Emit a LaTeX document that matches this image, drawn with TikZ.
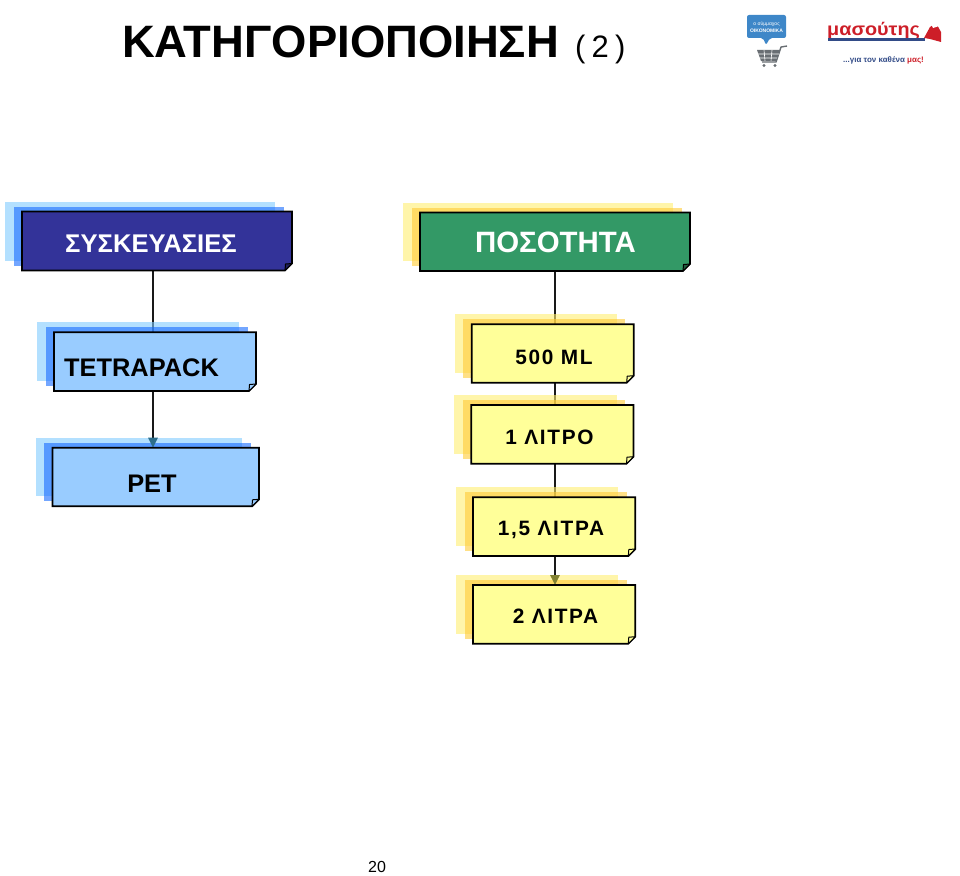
\documentclass[tikz,border=0pt]{standalone}
\usepackage{fontspec}
\setmainfont{Liberation Sans}
\usetikzlibrary{calc,arrows.meta}
\definecolor{navy}{RGB}{51,51,153}
\definecolor{grn}{RGB}{51,153,102}
\definecolor{sky}{RGB}{153,204,255}
\definecolor{lem}{RGB}{255,255,153}
\definecolor{bluebackA}{RGB}{128,203,255}
\definecolor{bluebackB}{RGB}{22,106,255}
\definecolor{yelbackA}{RGB}{255,238,113}
\definecolor{yelbackB}{RGB}{255,203,53}
\definecolor{logoblue}{RGB}{62,135,200}
\definecolor{logored}{RGB}{205,30,40}
\definecolor{logogray}{RGB}{105,110,115}
\definecolor{logonavy}{RGB}{50,75,135}
\definecolor{tealtip}{RGB}{45,110,140}
\definecolor{olivetip}{RGB}{130,130,50}
\pgfdeclarelayer{conn}
\pgfdeclarelayer{shadA}
\pgfdeclarelayer{shadB}
\pgfdeclarelayer{tips}
\pgfsetlayers{conn,shadA,shadB,tips,main}
\tikzset{
  box/.style={rectangle,inner sep=0pt,outer sep=0pt},
  backA/.style={box,fill=#1,opacity=.6},
  backB/.style={box,fill=#1,opacity=.6},
  edge/.style={draw=black,line width=1.7pt,line join=miter},
  foldmark/.style={draw=black,line width=1pt,line join=round},
  wire/.style={draw=black!90,line width=1.5pt},
  arrowwire/.style={wire,-{Triangle[length=10pt,width=9.5pt,color=#1]}},
  whitelabel/.style={text=white,font=\bfseries\fontsize{25.6}{30}\selectfont,inner sep=0pt},
  blacklabel/.style={text=black,font=\bfseries\fontsize{25.4}{30}\selectfont,inner sep=0pt},
  tracklabel/.style={text=black,font=\bfseries\fontsize{20.8}{24}\selectfont\addfontfeature{LetterSpace=8},inner sep=0pt},
}
% name, x1, y1, x2, y2, fill, fold fill, shadow A, shadow B
\newcommand\panel[9]{%
  \pgfmathsetmacro\pcx{(#2+#4)/2}%
  \pgfmathsetmacro\pcy{(#3+#5)/2}%
  \pgfmathsetmacro\pw{#4-#2}%
  \pgfmathsetmacro\ph{#5-#3}%
  \begin{pgfonlayer}{shadA}
    \node[backA=#8,minimum width=\pw pt,minimum height=\ph pt] (#1-a) at (\pcx-17,\pcy-10) {};
  \end{pgfonlayer}
  \begin{pgfonlayer}{shadB}
    \node[backB=#9,minimum width=\pw pt,minimum height=\ph pt] (#1-b) at (\pcx-8.5,\pcy-5) {};
  \end{pgfonlayer}
  \node[box,minimum width=\pw pt,minimum height=\ph pt] (#1) at (\pcx,\pcy) {};
  \path[edge,fill=#6] (#1.north west) -- (#1.north east) -- ($(#1.south east)+(0,-7)$) -- ($(#1.south east)+(-7,0)$) -- (#1.south west) -- cycle;
  \path[foldmark,fill=#7] ($(#1.south east)+(0,-7)$) -- ($(#1.south east)+(-6.5,-6.5)$) -- ($(#1.south east)+(-7,0)$) -- cycle;
}
\begin{document}
\begin{tikzpicture}[x=1pt,y=-1pt]
\useasboundingbox (0,0) rectangle (960,875);

% title
\node[inner sep=0pt,anchor=base west,font=\bfseries\fontsize{45.4}{50}\selectfont] (title) at (122,57) {ΚΑΤΗΓΟΡΙΟΠΟΙΗΣΗ};
\node[inner sep=0pt,anchor=base west,font=\fontsize{31}{36}\selectfont\addfontfeature{LetterSpace=20}] (titlenum) at (575,57) {(2)};

% left column
\panel{syskeuasies}{22}{211.5}{292}{270.5}{navy}{navy!60!black}{bluebackA}{bluebackB}
\panel{tetrapack}{54}{332.3}{256}{391}{sky}{sky}{bluebackA}{bluebackB}
\panel{pet}{52.5}{447.7}{259}{506.3}{sky}{sky}{bluebackA}{bluebackB}
% right column
\panel{posotita}{420}{212.5}{690}{271}{grn}{grn!60!black}{yelbackA}{yelbackB}
\panel{ml}{471.7}{324.3}{633.7}{382.7}{lem}{lem}{yelbackA}{yelbackB}
\panel{ena}{471.3}{405}{633.5}{463.7}{lem}{lem}{yelbackA}{yelbackB}
\panel{enamisi}{473}{497.3}{635.3}{556}{lem}{lem}{yelbackA}{yelbackB}
\panel{dyo}{473}{585}{635.3}{643.7}{lem}{lem}{yelbackA}{yelbackB}

% labels
\node[whitelabel] (l1) at (151,243.5) {ΣΥΣΚΕΥΑΣΙΕΣ};
\node[blacklabel] (l2) at (141.5,367.5) {TETRAPACK};
\node[blacklabel] (l3) at (152,483.5) {PET};
\node[whitelabel,font=\bfseries\fontsize{29.4}{32}\selectfont] (l4) at (555.5,242) {ΠΟΣΟΤΗΤΑ};
\node[tracklabel] (l5) at (554,357) {500 ML};
\node[tracklabel] (l6) at (549.5,437.5) {1 ΛΙΤΡΟ};
\node[tracklabel] (l7) at (551,530) {1,5 ΛΙΤΡΑ};
\node[tracklabel] (l8) at (555.5,616) {2 ΛΙΤΡΑ};

% connectors
\coordinate (spineL) at (153,0);
\coordinate (spineR) at (555,0);
\begin{pgfonlayer}{conn}
  \draw[wire] (syskeuasies.south -| spineL) -- (tetrapack.north -| spineL);
  \draw[wire] (posotita.south -| spineR) -- (ml.north -| spineR);
  \draw[wire] (ml.south -| spineR) -- (ena.north -| spineR);
  \draw[wire] (ena.south -| spineR) -- (enamisi.north -| spineR);
\end{pgfonlayer}
\begin{pgfonlayer}{tips}
  \draw[arrowwire=tealtip] (tetrapack.south -| spineL) -- (pet.north -| spineL);
  \draw[arrowwire=olivetip] (enamisi.south -| spineR) -- (dyo.north -| spineR);
\end{pgfonlayer}

% page number
\node[inner sep=0pt,font=\fontsize{16}{18}\selectfont] (page) at (377,867) {20};

% left logo
\fill[logoblue,rounded corners=2pt] (747,15) -- (786,15) -- (786,38) -- (770,38) -- (766,45) -- (763,38) -- (747,38) -- cycle;
\node[inner sep=0pt,text=white,font=\fontsize{5}{6}\selectfont] (logotxtA) at (766.5,24) {ο σύμμαχος};
\node[inner sep=0pt,text=white,font=\bfseries\fontsize{5}{6}\selectfont] (logotxtB) at (766.5,30.5) {ΟΙΚΟΝΟΜΙΚΑ};
\draw[logogray,line width=1.4pt,line join=round] (787,46) -- (781,47) -- (776,62) -- (762,62);
\fill[logogray] (757,50) -- (780,50) -- (776,61) -- (761,61) -- cycle;
\draw[white,line width=.6pt] (757,54) -- (779,54) (758.5,58) -- (777,58) (764,50) -- (765,61) (772,50) -- (771,61);
\fill[logogray] (764,65.5) circle (1.7) (775,65.5) circle (1.7);

% right logo
\node[inner sep=0pt,anchor=base west,text=logored,font=\bfseries\fontsize{18}{20}\selectfont] (logoname) at (827,36) {\scalebox{1.1}[1]{μασούτης}};
\fill[logonavy] (828,38) rectangle (925,41.5);
\fill[logored] (924,38) -- (930,27) -- (936,23) -- (941,32) -- (941,42) -- (930,39) -- cycle;
\fill[white] (931,24) -- (938,22) -- (939,26) -- (933,28) -- cycle;
\node[inner sep=0pt,anchor=base west,text=logonavy,font=\bfseries\fontsize{8}{9}\selectfont] (slogan) at (843,63) {...για τον καθένα \textcolor{logored}{μας!}};
\end{tikzpicture}
\end{document}
